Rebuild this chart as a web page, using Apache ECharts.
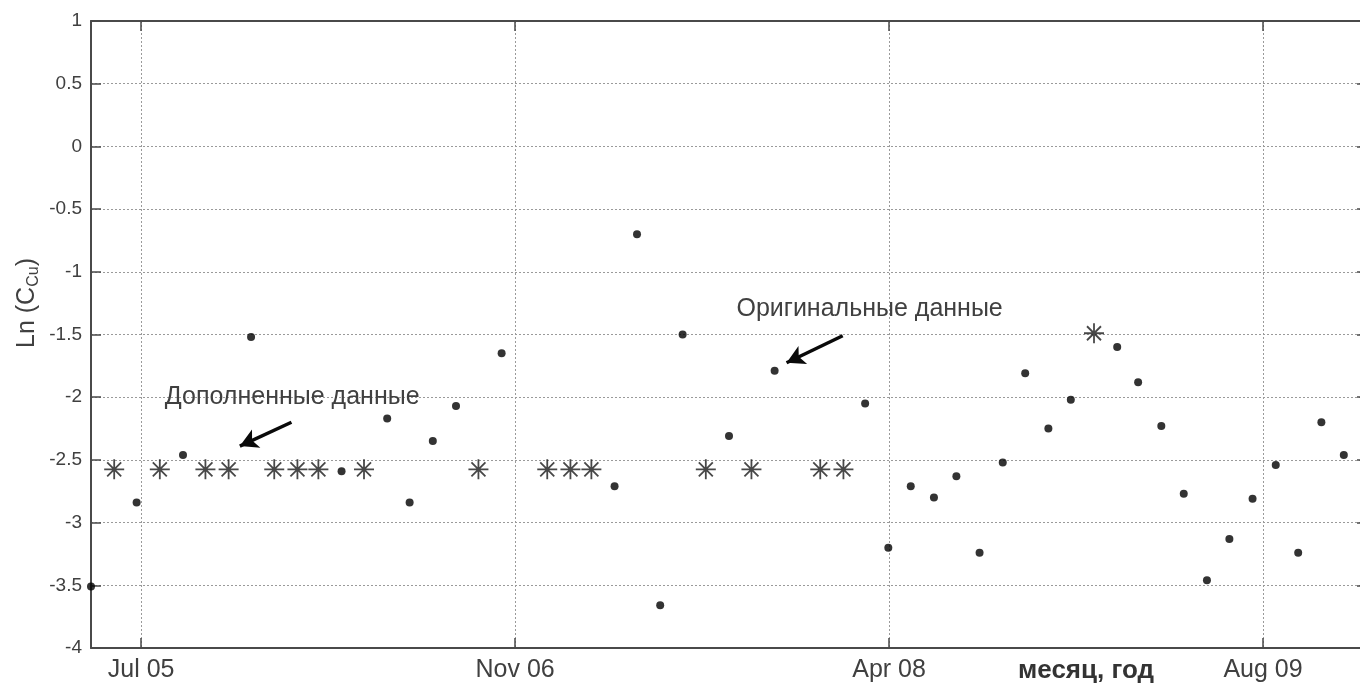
<!DOCTYPE html>
<html>
<head>
<meta charset="utf-8">
<script src="https://cdn.jsdelivr.net/npm/echarts@6/dist/echarts.min.js"></script>
<style>
  html, body { margin: 0; padding: 0; background: #fff; overflow: hidden; }
  #chart { width: 1360px; height: 684px; }
</style>
</head>
<body>
<div id="chart"></div>
<script>
// Monthly copper concentration, ln(C_Cu); first sample is May 2005
const firstMonth = '2005-05';

// Measured values (null where the month was not measured)
const original = [
  -3.51, null, -2.84, null, -2.46, null, null, -1.52, null, null,
  null, -2.59, null, -2.17, -2.84, -2.35, -2.07, null, -1.65, null,
  null, null, null, -2.71, -0.70, -3.66, -1.50, null, -2.31, null,
  -1.79, null, null, null, -2.05, -3.20, -2.71, -2.80, -2.63, -3.24,
  -2.52, -1.81, -2.25, -2.02, null, -1.60, -1.88, -2.23, -2.77, -3.46,
  -3.13, -2.81, -2.54, -3.24, -2.20, -2.46, -1.93
];

// Gap-filled values
const filled = [
  null, -2.575, null, -2.575, null, -2.575, -2.575, null, -2.575, -2.575,
  -2.575, null, -2.575, null, null, null, null, -2.575, null, null,
  -2.575, -2.575, -2.575, null, null, null, null, -2.575, null, -2.575,
  null, null, -2.575, -2.575, null, null, null, null, null, null,
  null, null, null, null, -1.49, null, null, null, null, null,
  null, null, null, null, null, null, null
];

// Date axis range and tick dates (every 500 days)
const xRange = ['2005-05-01', '2010-01-01'];
const tickDates = ['2005-07-07', '2006-11-19', '2008-04-02', '2009-08-15'];
const yMin = -4, yMax = 1, yStep = 0.5;

const monthNames = ['Jan','Feb','Mar','Apr','May','Jun','Jul','Aug','Sep','Oct','Nov','Dec'];

// serial day number (days since year 0, as datenum)
function dayNum(str) {
  const p = str.split('-').map(Number);
  return Date.UTC(p[0], p[1] - 1, p[2] || 1) / 86400000 + 719529;
}
function monthDay(i) {
  const p = firstMonth.split('-').map(Number);
  return Date.UTC(p[0], p[1] - 1 + i, 1) / 86400000 + 719529;
}
function fmtDay(v) {
  const d = new Date((v - 719529) * 86400000);
  return monthNames[d.getUTCMonth()] + ' ' + String(d.getUTCFullYear() % 100).padStart(2, '0');
}

const toPoints = arr => arr.map((v, i) => v === null ? null : [monthDay(i), v]).filter(Boolean);

const ticks = tickDates.map(dayNum);
const xMin = dayNum(xRange[0]), xMax = dayNum(xRange[1]);

const textColor = '#404040';
const axisColor = '#4a4a4a';
const gridLine = { show: true, lineStyle: { color: '#9a9a9a', type: [2, 2], width: 1 } };

const chart = echarts.init(document.getElementById('chart'), null, { renderer: 'canvas' });

chart.setOption({
  animation: false,
  backgroundColor: '#fff',
  // the axes box runs a few pixels past the right edge of the page
  grid: { left: 91, top: 21, width: 1276, height: 627, containLabel: false, outerBoundsMode: 'none' },
  xAxis: [{
    type: 'value', min: xMin, max: xMax, position: 'bottom',
    axisLine: { show: true, onZero: false, lineStyle: { color: axisColor, width: 2 } },
    axisTick: { show: true, inside: true, length: 10, customValues: ticks, lineStyle: { color: axisColor, width: 1.5 } },
    axisLabel: { customValues: ticks, formatter: fmtDay, fontFamily: 'Liberation Sans', fontSize: 25, color: textColor, margin: 10 },
    splitLine: gridLine
  }, {
    type: 'value', min: xMin, max: xMax, position: 'top',
    axisLine: { show: true, onZero: false, lineStyle: { color: axisColor, width: 2 } },
    axisTick: { show: true, inside: true, length: 10, customValues: ticks, lineStyle: { color: axisColor, width: 1.5 } },
    axisLabel: { show: false },
    splitLine: { show: false }
  }],
  yAxis: [{
    type: 'value', min: yMin, max: yMax, interval: yStep, position: 'left',
    axisLine: { show: true, onZero: false, lineStyle: { color: axisColor, width: 2 } },
    axisTick: { show: true, inside: true, length: 10, lineStyle: { color: axisColor, width: 1.5 } },
    axisLabel: { fontFamily: 'Liberation Sans', fontSize: 19, color: textColor, margin: 9 },
    splitLine: gridLine
  }, {
    type: 'value', min: yMin, max: yMax, interval: yStep, position: 'right',
    axisLine: { show: true, onZero: false, lineStyle: { color: axisColor, width: 2 } },
    axisTick: { show: true, inside: true, length: 10, lineStyle: { color: axisColor, width: 1.5 } },
    axisLabel: { show: false },
    splitLine: { show: false }
  }],
  series: [{
    name: 'Дополненные данные',
    type: 'scatter',
    clip: false,
    symbol: 'path://M0,10L20,10M10,0L10,20M3,3L17,17M17,3L3,17',
    symbolSize: 20,
    symbolKeepAspect: true,
    itemStyle: { color: 'transparent', borderColor: '#1a1a1a', borderWidth: 1.8 },
    data: toPoints(filled)
  }, {
    name: 'Оригинальные данные',
    type: 'scatter',
    clip: false,
    symbol: 'circle',
    symbolSize: 8,
    itemStyle: { color: '#000' },
    data: toPoints(original),
    markLine: {
      silent: true,
      symbol: ['none', 'arrow'],
      symbolSize: [15, 18],
      label: { show: false },
      lineStyle: { color: '#0a0a0a', width: 3.5, type: 'solid' },
      data: [
        [{ coord: [dayNum('2006-01-24'), -2.20] }, { coord: [dayNum('2005-11-16'), -2.39] }],
        [{ coord: [dayNum('2008-01-31'), -1.51] }, { coord: [dayNum('2007-11-17'), -1.725] }]
      ]
    },
    markPoint: {
      silent: true,
      symbol: 'circle',
      symbolSize: 0,
      label: { show: true, position: 'inside', fontFamily: 'Liberation Sans', fontSize: 25, color: textColor },
      data: [
        { coord: [dayNum('2006-01-25'), -2.0], label: { formatter: 'Дополненные данные' } },
        { coord: [dayNum('2008-03-07'), -1.30], label: { formatter: 'Оригинальные данные' } }
      ]
    }
  }],
  graphic: [{
    type: 'text',
    x: 27, y: 303,
    rotation: Math.PI / 2,
    style: {
      text: 'Ln (C{sub|Cu})',
      fontFamily: 'Liberation Sans', fontSize: 25, fill: textColor,
      align: 'center', verticalAlign: 'middle',
      rich: { sub: { fontFamily: 'Liberation Sans', fontSize: 16, fill: textColor, padding: [13, 0, 0, 0] } }
    }
  }, {
    type: 'text',
    x: 1086, y: 671,
    style: {
      text: 'месяц, год',
      fontFamily: 'Liberation Sans', fontSize: 26, fontWeight: 'bold', fill: '#333',
      align: 'center', verticalAlign: 'middle'
    }
  }]
});
</script>
</body>
</html>
